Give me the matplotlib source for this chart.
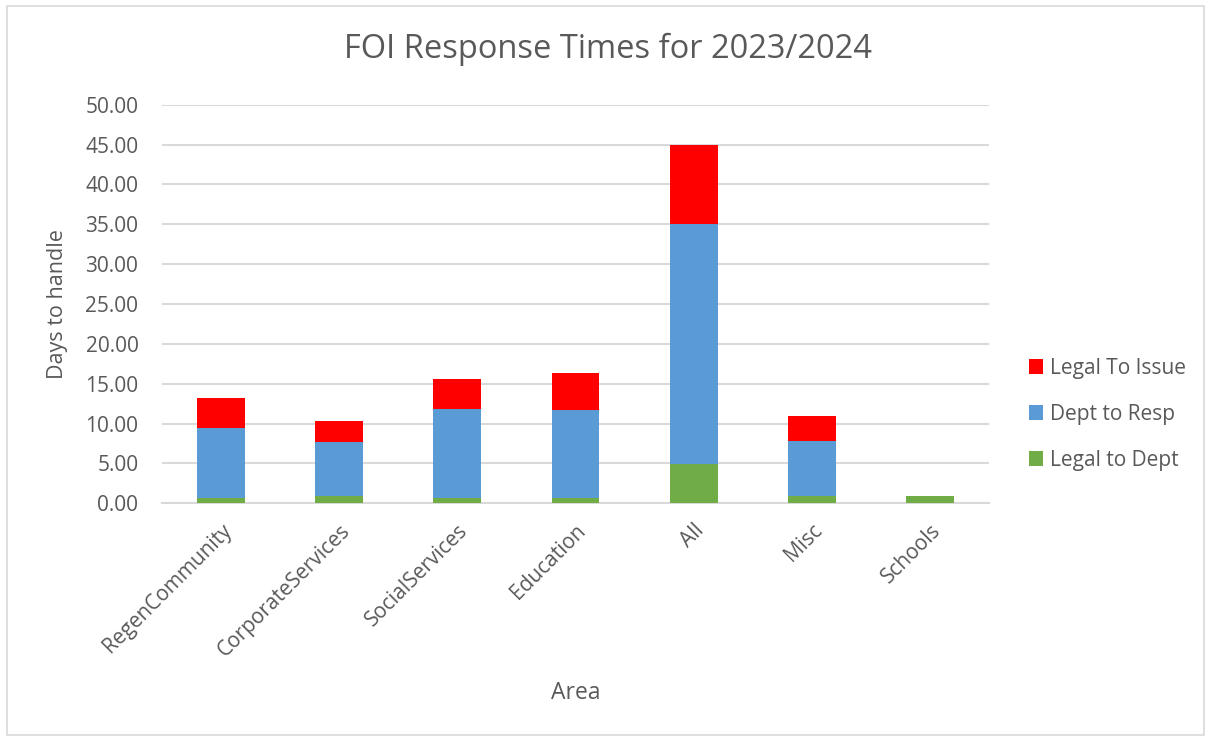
import numpy as np
import matplotlib.pyplot as plt
from matplotlib.patches import Rectangle

plt.rcParams['font.family'] = ['Open Sans', 'DejaVu Sans']

# Dados: tempos médios (dias) por área
areas = ['RegenCommunity', 'CorporateServices', 'SocialServices', 'Education', 'All', 'Misc', 'Schools']
legal_to_dept = [0.63, 0.88, 0.71, 0.63, 4.90, 0.88, 0.95]
dept_to_resp = [8.87, 6.82, 11.17, 11.12, 30.10, 6.95, 0.00]
legal_to_issue = [3.75, 2.65, 3.76, 4.55, 10.00, 3.14, 0.00]

cinza = '#595959'
grade = '#d9d9d9'

fig = plt.figure(figsize=(12.09, 7.38), dpi=100)
ax = fig.add_axes([0.134, 0.318, 0.684, 0.540])

x = np.arange(len(areas))
base2 = np.array(legal_to_dept)
base3 = base2 + np.array(dept_to_resp)
b1 = ax.bar(x, legal_to_dept, 0.405, color='#70ad47', label='Legal to Dept', zorder=3)
b2 = ax.bar(x, dept_to_resp, 0.405, bottom=base2, color='#5b9bd5', label='Dept to Resp', zorder=3)
b3 = ax.bar(x, legal_to_issue, 0.405, bottom=base3, color='#ff0000', label='Legal To Issue', zorder=3)

ax.set_xlim(-0.5, len(areas) - 0.5)
ax.set_ylim(0, 50)
ax.set_yticks(np.arange(0, 51, 5))
ax.set_yticklabels(['%.2f' % v for v in np.arange(0, 51, 5)])
ax.set_xticks(x)
ax.set_xticklabels(areas, rotation=45, ha='right', rotation_mode='anchor')
ax.yaxis.grid(True, color=grade, linewidth=1.5, zorder=0)
ax.set_axisbelow(True)
for s in ['top', 'right', 'left']:
    ax.spines[s].set_visible(False)
ax.spines['bottom'].set_color(grade)
ax.spines['bottom'].set_linewidth(1.5)
ax.tick_params(axis='both', length=0, labelsize=15, labelcolor=cinza)
ax.tick_params(axis='y', pad=17)
ax.tick_params(axis='x', pad=12)

ax.set_ylabel('Days to handle', fontsize=15.5, color=cinza, va='center')
ax.yaxis.set_label_coords(-0.126, 0.5)
ax.set_xlabel('Area', fontsize=16.5, color=cinza, va='center')
ax.xaxis.set_label_coords(0.5, -0.477)
fig.text(0.503, 0.933, 'FOI Response Times for 2023/2024', ha='center', va='center',
         fontsize=23.5, color=cinza)

# Legenda à direita, na ordem inversa das séries
leg = fig.legend([b3, b2, b1], ['Legal To Issue', 'Dept to Resp', 'Legal to Dept'],
                 loc='center left', bbox_to_anchor=(0.8355, 0.439), frameon=False,
                 fontsize=15, labelcolor=cinza, handlelength=0.7, handleheight=0.7,
                 handletextpad=0.3, labelspacing=1.2)

# Moldura da área do gráfico
fig.patches.append(Rectangle((0.006, 0.004), 0.99, 0.988, transform=fig.transFigure,
                             fill=False, edgecolor=grade, linewidth=1.2))

fig.savefig('out.png', dpi=100)
